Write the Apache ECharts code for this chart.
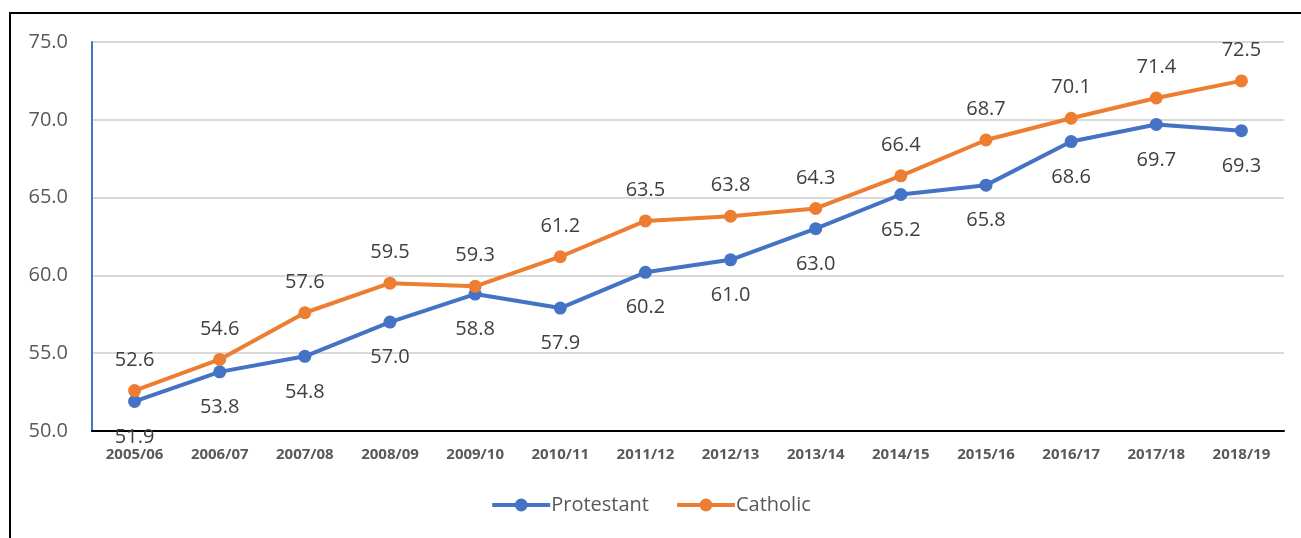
<!DOCTYPE html>
<html><head><meta charset="utf-8">
<script src="https://cdn.jsdelivr.net/npm/echarts@6/dist/echarts.min.js"></script>
<style>html,body{margin:0;padding:0;background:#fff}#c{width:1301px;height:538px}</style>
</head><body><div id="c"></div>
<script>
const categories = ['2005/06','2006/07','2007/08','2008/09','2009/10','2010/11','2011/12','2012/13','2013/14','2014/15','2015/16','2016/17','2017/18','2018/19'];
const protestant = [51.9,53.8,54.8,57.0,58.8,57.9,60.2,61.0,63.0,65.2,65.8,68.6,69.7,69.3];
const catholic = [52.6,54.6,57.6,59.5,59.3,61.2,63.5,63.8,64.3,66.4,68.7,70.1,71.4,72.5];
const seriesNames = ['Protestant','Catholic'];

const font = "'Open Sans', 'Liberation Sans', sans-serif";
const chart = echarts.init(document.getElementById('c'));
chart.setOption({
  animation:false,
  textStyle:{fontFamily:font},
  graphic:[{type:'rect',shape:{x:10,y:13,width:1400,height:700},style:{fill:'none',stroke:'#000',lineWidth:2},silent:true}],
  grid:{left:92,right:17,top:42,bottom:107},
  legend:{bottom:18,left:'center',itemWidth:58,itemHeight:16,itemGap:26,
    lineStyle:{width:4},
    textStyle:{fontSize:20,color:'#595959',fontFamily:font,padding:[0,0,0,-4]},
    data:seriesNames},
  xAxis:{type:'category',data:categories,boundaryGap:true,
    axisLine:{lineStyle:{color:'#000',width:2}},axisTick:{show:false},
    axisLabel:{fontSize:15,fontWeight:'bold',color:'#595959',margin:16,fontFamily:font}},
  yAxis:{type:'value',min:50,max:75,interval:5,
    axisLine:{show:true,lineStyle:{color:'#4472C4',width:2}},axisTick:{show:false},
    splitLine:{lineStyle:{color:'#d9d9d9',width:2}},
    axisLabel:{fontSize:20,color:'#595959',margin:24,formatter:v=>v.toFixed(1),fontFamily:font}},
  series:[
    {name:seriesNames[0],type:'line',data:protestant,symbol:'circle',symbolSize:13,
      lineStyle:{color:'#4472C4',width:4},itemStyle:{color:'#4472C4'},
      label:{show:true,position:'bottom',distance:19,fontSize:20,color:'#404040',formatter:p=>p.value.toFixed(1)}},
    {name:seriesNames[1],type:'line',data:catholic,symbol:'circle',symbolSize:13,
      lineStyle:{color:'#ED7D31',width:4},itemStyle:{color:'#ED7D31'},
      label:{show:true,position:'top',distance:14,fontSize:20,color:'#404040',formatter:p=>p.value.toFixed(1)}}
  ]
});
</script></body></html>
